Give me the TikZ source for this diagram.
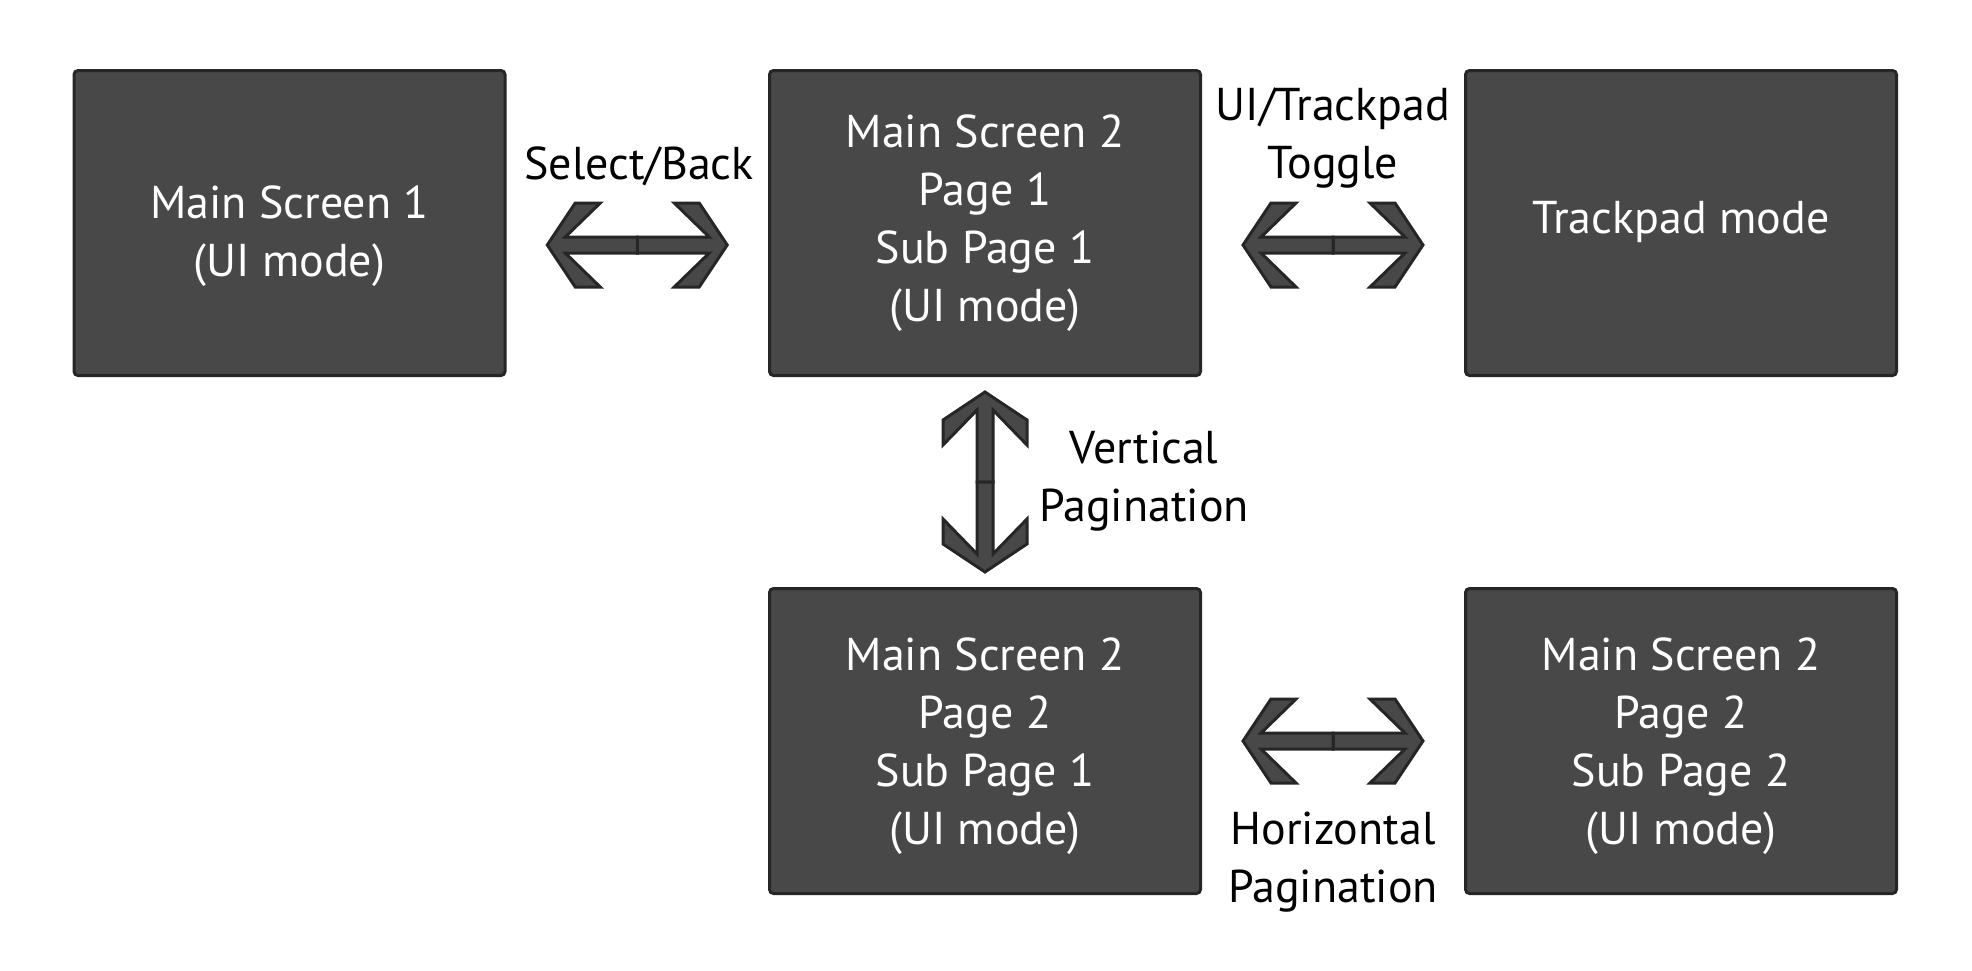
\documentclass[tikz,border=0pt]{standalone}
\usepackage{fontspec}
\setmainfont{PT Sans}
\usetikzlibrary{calc}
\definecolor{boxfill}{HTML}{484848}
\definecolor{boxline}{HTML}{262626}
\tikzset{
  screen/.style={draw=boxline, fill=boxfill, line width=3pt, rounded corners=4pt,
    minimum width=431pt, minimum height=305pt, inner sep=0pt},
  screentext/.style={text=white, align=center, inner sep=0pt, font=\fontsize{46}{58}\selectfont},
  lbl/.style={align=center, text=black, inner sep=0pt, font=\fontsize{46}{58}\selectfont},
  arrowhalf/.style={draw=boxline, fill=boxfill, line width=3pt, line join=miter},
  dblarrow/.pic={
    \path[arrowhalf] (0,-8) -- (72,-8) -- (37,-42) -- (62,-42) -- (90,0) -- (62,42) -- (37,42) -- (72,8) -- (0,8) -- cycle;
    \path[arrowhalf] (0,-8) -- (-72,-8) -- (-37,-42) -- (-62,-42) -- (-90,0) -- (-62,42) -- (-37,42) -- (-72,8) -- (0,8) -- cycle;
  }
}
\begin{document}
\begin{tikzpicture}[x=1pt,y=-1pt]
\useasboundingbox (0,0) rectangle (1972,970);
\node[screen] (ms1) at (289.5,223) {};
\node[screen] (ms2) at (985,223) {};
\node[screen] (tp) at (1681,223) {};
\node[screen] (p21) at (985,741) {};
\node[screen] (p22) at (1681,741) {};
\node[screentext] (ms1t) at ($(ms1.center)+(0,13)$) {Main Screen 1\\(UI mode)};
\node[screentext] (ms2t) at ($(ms2.center)+(0,0)$) {Main Screen 2\\Page 1\\Sub Page 1\\(UI mode)};
\node[screentext] (tpt) at ($(tp.center)+(0,-1)$) {Trackpad mode};
\node[screentext] (p21t) at ($(p21.center)+(0,5)$) {Main Screen 2\\Page 2\\Sub Page 1\\(UI mode)};
\node[screentext] (p22t) at ($(p22.center)+(0,5)$) {Main Screen 2\\Page 2\\Sub Page 2\\(UI mode)};
\coordinate (a1) at ($(ms1.east)!0.5!(ms2.west)+(0,22)$);
\coordinate (a2) at ($(ms2.east)!0.5!(tp.west)+(0,22)$);
\coordinate (a3) at ($(ms2.south)!0.5!(p21.north)$);
\coordinate (a4) at ($(p21.east)!0.5!(p22.west)$);
\pic at (a1) {dblarrow};
\pic at (a2) {dblarrow};
\pic[rotate=90] at (a3) {dblarrow};
\pic at (a4) {dblarrow};
\node[lbl] (l1) at (639,166) {Select/Back};
\node[lbl] (l2) at (1333,138) {UI/Trackpad\\Toggle};
\node[lbl] (l3) at (1144,481) {Vertical\\Pagination};
\node[lbl] (l4) at (1333,862) {Horizontal\\Pagination};
\end{tikzpicture}
\end{document}
